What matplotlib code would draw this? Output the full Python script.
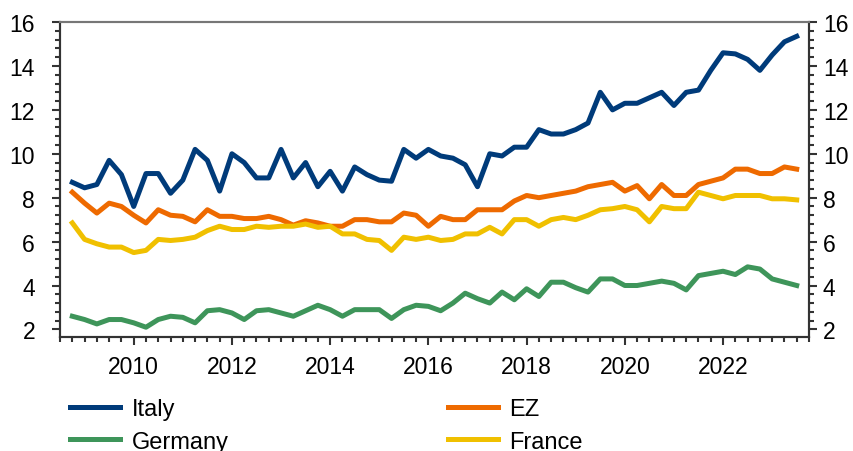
import numpy as np
import matplotlib.pyplot as plt
import matplotlib.ticker as mticks

plt.switch_backend('agg')
plt.rcParams['font.family'] = ['Liberation Sans', 'DejaVu Sans']

# quarterly observations, 2008Q4 .. 2023Q3
start_year = 2008.75
italy = [8.7, 8.45, 8.6, 9.7, 9.05, 7.6, 9.1, 9.1, 8.2, 8.8, 10.2, 9.7, 8.3, 10.0, 9.6, 8.9, 8.9, 10.2, 8.9,
         9.6, 8.5, 9.2, 8.3, 9.4, 9.05, 8.8, 8.75, 10.2, 9.8, 10.2, 9.9, 9.8, 9.5, 8.5, 10.0, 9.9, 10.3, 10.3,
         11.1, 10.9, 10.9, 11.1,
         11.4, 12.8, 12.0, 12.3, 12.3, 12.55, 12.8, 12.2, 12.8, 12.9, 13.8, 14.6, 14.55, 14.3, 13.8, 14.5,
         15.1, 15.35]
ez = [8.25, 7.75, 7.3, 7.75, 7.6, 7.2, 6.85, 7.45, 7.2, 7.15, 6.9, 7.45, 7.15, 7.15, 7.05, 7.05, 7.15, 7.0, 6.75,
      6.95, 6.85, 6.7, 6.7, 7.0, 7.0, 6.9, 6.9, 7.3, 7.2, 6.7, 7.15, 7.0, 7.0, 7.45, 7.45, 7.45, 7.85, 8.1,
      8.0, 8.1, 8.2, 8.3,
      8.5, 8.6, 8.7, 8.3, 8.55, 7.95, 8.6, 8.1, 8.1, 8.6, 8.75, 8.9, 9.3, 9.3, 9.1, 9.1, 9.4, 9.3]
germany = [2.6, 2.45, 2.25, 2.45, 2.45, 2.3, 2.1, 2.45, 2.6, 2.55, 2.3, 2.85, 2.9, 2.75, 2.45, 2.85, 2.9, 2.75, 2.6,
           2.85, 3.1, 2.9, 2.6, 2.9, 2.9, 2.9, 2.5, 2.9, 3.1, 3.05, 2.85, 3.2, 3.65, 3.4, 3.2, 3.7, 3.35, 3.85,
           3.5, 4.15, 4.15, 3.9,
           3.7, 4.3, 4.3, 4.0, 4.0, 4.1, 4.2, 4.1, 3.8, 4.45, 4.55, 4.65, 4.5, 4.85, 4.75, 4.3, 4.15, 4.0]
france = [6.85, 6.1, 5.9, 5.75, 5.75, 5.5, 5.6, 6.1, 6.05, 6.1, 6.2, 6.5, 6.7, 6.55, 6.55, 6.7, 6.65, 6.7, 6.7,
          6.8, 6.65, 6.7, 6.35, 6.35, 6.1, 6.05, 5.6, 6.2, 6.1, 6.2, 6.05, 6.1, 6.35, 6.35, 6.65, 6.35, 7.0, 7.0,
          6.7, 7.0, 7.1, 7.0,
          7.2, 7.45, 7.5, 7.6, 7.45, 6.9, 7.6, 7.5, 7.5, 8.25, 8.1, 7.95, 8.1, 8.1, 8.1, 7.95, 7.95, 7.9]
year_ticks = [2010, 2012, 2014, 2016, 2018, 2020, 2022]

t = start_year + 0.25 * np.arange(len(italy))

fig = plt.figure(figsize=(8.54, 4.52), dpi=100)
ax = fig.add_axes([0.0703, 0.252, 0.877, 0.697])

lw = 3.6
l_it, = ax.plot(t, italy, color='#003B7A', lw=lw, label='Italy')
l_ez, = ax.plot(t, ez, color='#EE6A00', lw=lw, label='EZ')
l_fr, = ax.plot(t, france, color='#F0C000', lw=lw, label='France')
l_de, = ax.plot(t, germany, color='#3E955A', lw=lw, label='Germany')

ax.set_xlim(2008.5, 2023.75)
ax.set_ylim(1.65, 16)

ax.set_xticks(year_ticks)
ax.xaxis.set_minor_locator(mticks.MultipleLocator(0.25))
ax.yaxis.set_minor_locator(mticks.MultipleLocator(0.4))
ax.set_yticks(range(2, 17, 2))

ax2 = ax.twinx()
ax2.set_ylim(ax.get_ylim())
ax2.set_yticks(range(2, 17, 2))
ax2.yaxis.set_minor_locator(mticks.MultipleLocator(0.4))

for a in (ax, ax2):
    a.tick_params(which='major', direction='out', length=6, width=1.5, color='#333333',
                  labelsize=16.5, pad=12)
    a.tick_params(which='minor', direction='out', length=3.5, width=1.5, color='#333333')
    for s in a.spines.values():
        s.set_linewidth(1.5)
        s.set_color('#333333')
    a.spines['top'].set_color('#777777')
ax.tick_params(axis='x', pad=7)
ax2.tick_params(axis='y', pad=4)

leg = fig.legend([l_it, l_de, l_ez, l_fr], ['Italy', 'Germany', 'EZ', 'France'],
                 ncol=2, loc='upper left', bbox_to_anchor=(0.082, 0.117),
                 frameon=False, fontsize=17, handlelength=2.1, handletextpad=0.5,
                 columnspacing=9.3, labelspacing=0.45, borderaxespad=0, borderpad=0)
for h in leg.get_lines():
    h.set_linewidth(lw)

plt.savefig('out.png', dpi=100)
